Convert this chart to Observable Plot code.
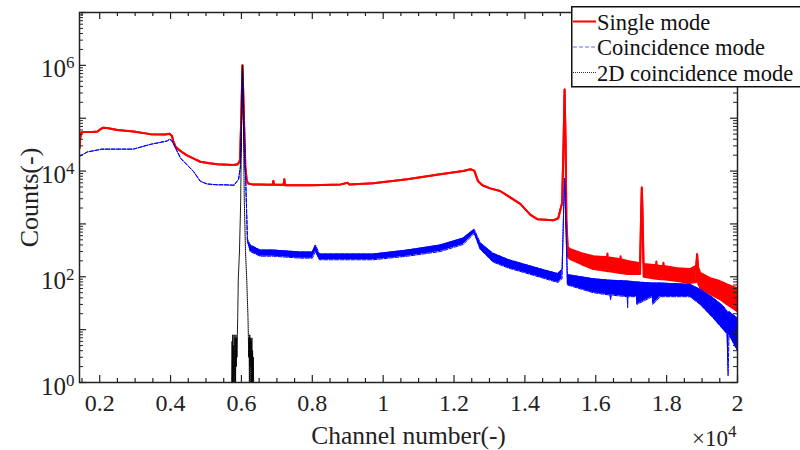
<!DOCTYPE html>
<html><head><meta charset="utf-8">
<script src="https://cdn.jsdelivr.net/npm/d3@7"></script>
<script src="https://cdn.jsdelivr.net/npm/@observablehq/plot@0.6"></script>
<style>
body{margin:0;background:#fff;}
#wrap{position:relative;width:800px;height:450px;font-family:"Liberation Serif","Times New Roman",serif;}
#legend{position:absolute;left:571px;top:6px;}
</style>
</head><body>
<div id="wrap"></div>
<script>
// ---- Single mode (red): channel, lower envelope, upper envelope (counts)
const singleCh = [1430,1450,1480,1600,1800,1940,2020,2100,2200,2500,2950,3430,3850,3970,4040,4080,4140,4280,4450,4670,4840,5100,5320,5770,5900,5960,5995,6030,6070,6110,6150,6200,6300,6500,6880,6900,6920,7190,7210,7230,7600,8000,8800,9000,9040,9720,10680,11610,12260,12460,12570,12680,12800,13020,13300,13870,14150,14350,14800,14940,15050,15090,15120,15150,15170,15210,15280,15600,15930,16320,16330,16340,16690,16700,16710,16890,17250,17280,17300,17320,17350,17700,17710,17720,17820,17900,17910,17920,18300,18660,18830,18860,18890,18950,19230,19500,19710,19850,20000];
const singleLo = [2.7e4,4.2e4,5.4e4,5.5e4,5.5e4,5.6e4,6.2e4,6.6e4,6.5e4,6.0e4,5.6e4,5.0e4,4.9e4,5.1e4,4.6e4,3.6e4,2.9e4,2.4e4,2.0e4,1.7e4,1.5e4,1.4e4,1.35e4,1.3e4,1.35e4,1.6e4,1.0e5,1.0e6,1.0e5,1.2e4,6.5e3,5.8e3,5.6e3,5.6e3,5.5e3,6.5e3,5.5e3,5.5e3,7.0e3,5.4e3,5.4e3,5.4e3,5.6e3,6.0e3,5.6e3,5.9e3,7.0e3,8.7e3,1.0e4,1.08e4,1.02e4,6.4e3,5.4e3,4.7e3,4.2e3,2.4e3,1.5e3,1.23e3,1.17e3,1.28e3,2.5e3,3.0e4,3.5e5,3.0e4,1.2e3,240,216,173,140,128,140,128,118,130,118,113,113,1500,4900,1500,100,92,100,92,90,90,100,90,83,76,80,268,75,61,47,38,30,26,22];
const singleHi = [2.7e4,4.2e4,5.4e4,5.5e4,5.5e4,5.6e4,6.2e4,6.6e4,6.5e4,6.0e4,5.6e4,5.0e4,4.9e4,5.1e4,4.6e4,3.6e4,2.9e4,2.4e4,2.0e4,1.7e4,1.5e4,1.4e4,1.35e4,1.3e4,1.35e4,1.6e4,1.0e5,1.0e6,1.0e5,1.2e4,6.5e3,5.8e3,5.6e3,5.6e3,5.5e3,6.5e3,5.5e3,5.5e3,7.0e3,5.4e3,5.4e3,5.4e3,5.6e3,6.0e3,5.6e3,5.9e3,7.0e3,8.7e3,1.0e4,1.08e4,1.02e4,6.4e3,5.4e3,4.7e3,4.2e3,2.4e3,1.5e3,1.23e3,1.17e3,1.28e3,2.5e3,3.0e4,3.5e5,3.0e4,1.2e3,360,333,280,245,235,275,235,215,245,215,200,180,1500,4900,1500,175,165,195,165,160,160,185,160,145,140,160,268,150,118,94,83,72,66,61];

// ---- Coincidence mode (blue)
const coinCh = [1430,1650,1940,2050,2950,3430,3900,3970,4030,4090,4280,4650,4840,5030,5320,5500,5790,5920,5970,6000,6030,6070,6100,6140,6170,6250,6530,6900,7670,8000,8090,8200,8800,9720,10680,11610,12260,12570,12740,13100,13550,14020,14500,14930,15050,15090,15120,15150,15200,15930,16400,16420,16440,16890,16900,16910,17150,17160,17600,17610,17820,18660,18945,19312,19600,19707,19735,19760,20000];
const coinLo = [1.9e4,2.3e4,2.5e4,2.6e4,2.6e4,3.2e4,3.7e4,4.0e4,3.8e4,3.2e4,1.76e4,9.8e3,6.4e3,5.7e3,5.5e3,5.5e3,5.4e3,7.0e3,1.2e4,1.0e5,1.0e6,1.0e5,2.1e4,2.4e3,470,300,245,245,225,225,300,210,210,210,245,300,410,660,330,190,145,118,95,78,92,1500,7300,1500,70,50,45,37,45,42,26,42,42,30,42,30,42,42,30,16.6,10,8.3,1.34,8,4];
const coinHi = [1.9e4,2.3e4,2.5e4,2.6e4,2.6e4,3.2e4,3.7e4,4.0e4,3.8e4,3.2e4,1.76e4,9.8e3,6.4e3,5.7e3,5.5e3,5.5e3,5.4e3,7.0e3,1.2e4,1.0e5,1.0e6,1.0e5,2.1e4,2.4e3,520,400,320,320,295,295,400,270,270,270,320,400,540,790,440,280,210,170,138,115,138,1500,7300,1500,110,92,86,86,86,83,83,83,80,80,76,76,76,72,58,40,28,22.5,20,22,16.6];

// ---- 2D coincidence mode (black)
const twoDCh = [5725,5735,5745,5755,5765,5775,5785,5795,5805,5815,5825,5835,5845,5855,5865,5875,5885,5895,5912,5945,5979,6000,6030,6060,6081,6115,6148,6185,6195,6205,6215,6225,6235,6245,6255,6265,6275,6285,6295,6305,6315,6325,6335,6345];
const twoDCounts = [1,6,1,8,1,5,1,8,2,1,7,1,8,2,7,3,8,17,95,300,2700,5e4,1e6,5e4,2700,300,95,17,8,3,7,1,8,2,7,1,6,1,7,1,4,1,3,1];

// ---- ticks / labels
const xLabelTicks = [2000,4000,6000,8000,10000,12000,14000,16000,18000,20000];
const yLabelTicks = [1,1e2,1e4,1e6];
const yMajor = [1,1e1,1e2,1e3,1e4,1e5,1e6,1e7];
const xMinor = d3.range(1500, 20000, 500).filter(v => v % 2000 !== 0);
const yMinor = [];
for (let n = 0; n < 7; n++) for (let k = 2; k <= 9; k++) yMinor.push(k * Math.pow(10, n));
const legendLabels = ["Single mode", "Coincidence mode", "2D coincidence mode"];

const single = singleCh.map((c,i)=>({c, lo: singleLo[i], hi: singleHi[i]}));
const coin = coinCh.map((c,i)=>({c, lo: coinLo[i], hi: coinHi[i]}));
const twoD = twoDCh.map((c,i)=>({c, n: twoDCounts[i]}));

const X0 = 1430, X1 = 20000, Y0 = 1, Y1 = 1e7;
const axisCol = "#222";
const tkX7 = 197.6, tkX4 = 113; // tick lengths in channel units (7px / 4px)
const tkY7 = 1.357, tkY4 = 1.19; // tick lengths as log factors
const serif = '"Liberation Serif","Times New Roman",serif';

const svg = Plot.plot({
  width: 800, height: 450,
  marginLeft: 79, marginRight: 63, marginTop: 12, marginBottom: 68,
  style: {fontFamily: serif, background: "white", color: axisCol, overflow: "visible"},
  x: {domain: [X0, X1]},
  y: {type: "log", domain: [Y0, Y1]},
  marks: [
    Plot.areaY(single, {x: "c", y1: "lo", y2: "hi", fill: "#ff0000", clip: true}),
    Plot.line(single, {x: "c", y: "lo", stroke: "#ff0000", strokeWidth: 2, clip: true}),
    Plot.line(single, {x: "c", y: "hi", stroke: "#ff0000", strokeWidth: 2, clip: true}),
    Plot.areaY(coin, {x: "c", y1: "lo", y2: "hi", fill: "#0000ff", clip: true}),
    Plot.line(coin, {x: "c", y: "lo", stroke: "#0000ff", strokeWidth: 1, strokeDasharray: "4,1.5", clip: true}),
    Plot.line(coin, {x: "c", y: "hi", stroke: "#0000ff", strokeWidth: 1, strokeDasharray: "4,1.5", clip: true}),
    Plot.line(twoD, {x: "c", y: "n", stroke: "#000", strokeWidth: 1, strokeDasharray: "1,1", clip: true}),
    // inward ticks (bottom/top)
    Plot.ruleX(xLabelTicks, {x: d=>d, y1: Y0, y2: Y0*tkY7, stroke: axisCol, strokeWidth: 1.2}),
    Plot.ruleX(xLabelTicks, {x: d=>d, y1: Y1, y2: Y1/tkY7, stroke: axisCol, strokeWidth: 1.2}),
    Plot.ruleX(xMinor, {x: d=>d, y1: Y0, y2: Y0*tkY4, stroke: axisCol, strokeWidth: 1.2}),
    Plot.ruleX(xMinor, {x: d=>d, y1: Y1, y2: Y1/tkY4, stroke: axisCol, strokeWidth: 1.2}),
    // inward ticks (left/right)
    Plot.ruleY(yMajor, {y: d=>d, x1: X0, x2: X0+tkX7, stroke: axisCol, strokeWidth: 1.2}),
    Plot.ruleY(yMajor, {y: d=>d, x1: X1, x2: X1-tkX7, stroke: axisCol, strokeWidth: 1.2}),
    Plot.ruleY(yMinor, {y: d=>d, x1: X0, x2: X0+tkX4, stroke: axisCol, strokeWidth: 1}),
    Plot.ruleY(yMinor, {y: d=>d, x1: X1, x2: X1-tkX4, stroke: axisCol, strokeWidth: 1}),
    Plot.frame({stroke: axisCol, strokeWidth: 1.5}),
    Plot.axisX(xLabelTicks, {tickSize: 0, tickPadding: 11, tickFormat: d => String(d/1e4), fontSize: 24, label: null}),
    Plot.axisY(yLabelTicks, {tickSize: 0, tickPadding: 5, tickFormat: d => String(Math.round(Math.log10(d))), fontSize: 25, label: null, dy: 4}),
    Plot.text(["Channel number(-)"], {frameAnchor: "bottom", text: d=>d, textAnchor: "middle", lineAnchor: "middle", dy: 53, fontSize: 25.5, fill: axisCol}),
    Plot.text(["Counts(-)"], {frameAnchor: "left", text: d=>d, textAnchor: "middle", lineAnchor: "middle", dx: -50, dy: 0, rotate: -90, fontSize: 26, fill: axisCol}),
    Plot.text(["×10"], {frameAnchor: "bottom-right", text: d=>d, textAnchor: "end", lineAnchor: "middle", dx: -1, dy: 56, fontSize: 23, fill: axisCol})
  ]
});

const NS = "http://www.w3.org/2000/svg";
function addSup(t, s, dy, fs) {
  const ts = document.createElementNS(NS, "tspan");
  ts.setAttribute("dy", dy); ts.setAttribute("font-size", fs); ts.textContent = s; t.appendChild(ts);
}
svg.querySelectorAll('g[aria-label="y-axis tick label"] text').forEach(t => {
  const e = t.textContent; t.textContent = "10"; addSup(t, e, "-9", "17");
});
svg.querySelectorAll('text').forEach(t => { if (t.textContent === "×10") addSup(t, "4", "-9", "17"); });

const wrap = document.getElementById("wrap");
wrap.appendChild(svg);

// legend
const leg = document.createElementNS(NS, "svg");
leg.setAttribute("id", "legend"); leg.setAttribute("width", 229); leg.setAttribute("height", 82);
const legStyle = [
  {stroke: "#ff0000", w: 2, dash: null},
  {stroke: "#6a6ae0", w: 1, dash: "4,2"},
  {stroke: "#333", w: 1, dash: "1,1"}
];
let html = `<rect x="0.75" y="0.75" width="230" height="80" fill="#fff" stroke="#111" stroke-width="1.5"/>`;
legendLabels.forEach((lab, i) => {
  const st = legStyle[i];
  const yl = 15.5 + i * 25.5, yt = 23.5 + i * 25.5;
  html += `<line x1="2" x2="25" y1="${yl}" y2="${yl}" stroke="${st.stroke}" stroke-width="${st.w}" ${st.dash ? `stroke-dasharray="${st.dash}"` : ""}/>`;
  html += `<text x="26" y="${yt}" font-size="22.5" fill="#111" font-family='${serif}'>${lab}</text>`;
});
leg.innerHTML = html;
wrap.appendChild(leg);
</script>
</body></html>
